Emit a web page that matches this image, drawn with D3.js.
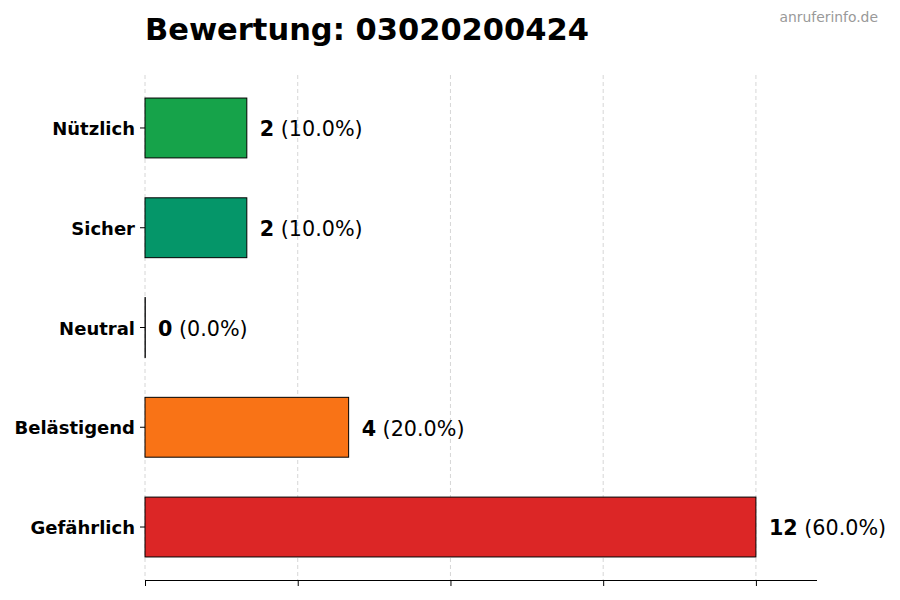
<!DOCTYPE html>
<html lang="de">
<head>
<meta charset="UTF-8">
<title>Bewertung</title>
<script src="https://cdn.jsdelivr.net/npm/d3@7/dist/d3.min.js"></script>
<style>
    body { margin: 0; background: #fff; }
    svg { font-family: "DejaVu Sans", sans-serif; }
</style>
</head>
<body>
<div id="chart"></div>
<script>
    // Data
    var categories = ['Nützlich', 'Sicher', 'Neutral', 'Belästigend', 'Gefährlich'];
    var counts = [2, 2, 0, 4, 12];
    var percents = [10.0, 10.0, 0.0, 20.0, 60.0];
    var colors = ['#16a34a', '#059669', '#6b7280', '#f97316', '#dc2626'];
    var xTicks = [0, 3, 6, 9, 12];
    var title = 'Bewertung: 03020200424';
    var watermark = 'anruferinfo.de';

    var width = 900, height = 600;
    // plot area (named so they don't clash with window.top)
    var plotLeft = 145, plotRight = 817, plotTop = 75, plotBottom = 580;

    var svg = d3.select('#chart').append('svg')
        .attr('width', width)
        .attr('height', height);

    var x = d3.scaleLinear().domain([0, d3.max(counts) * 1.1]).range([plotLeft, plotRight]);
    var y = d3.scaleBand().domain(categories).range([plotTop, plotBottom])
        .paddingInner(0.4).paddingOuter(0.231);

    // dashed grid
    svg.append('g').selectAll('line').data(xTicks).enter().append('line')
        .attr('x1', d => x(d)).attr('x2', d => x(d))
        .attr('y1', plotTop).attr('y2', plotBottom)
        .attr('stroke', '#cccccc').attr('stroke-width', 0.8)
        .attr('stroke-dasharray', '4,3');

    // bars (zero-width rects don't render, so give them a hairline)
    svg.append('g').selectAll('rect').data(categories).enter().append('rect')
        .attr('x', x(0))
        .attr('y', d => y(d))
        .attr('width', (d, i) => Math.max(x(counts[i]) - x(0), 0.3))
        .attr('height', y.bandwidth())
        .attr('fill', (d, i) => colors[i])
        .attr('stroke', '#000').attr('stroke-width', 1);

    // value labels
    var labels = svg.append('g').selectAll('text').data(categories).enter().append('text')
        .attr('x', (d, i) => x(counts[i]) + 13)
        .attr('y', d => y(d) + y.bandwidth() / 2)
        .attr('dy', '0.4em')
        .attr('font-size', 20.7);
    labels.append('tspan').attr('font-weight', 'bold').text((d, i) => counts[i]);
    labels.append('tspan').text((d, i) => ' (' + percents[i].toFixed(1) + '%)');

    // y axis (no spine)
    var yAxis = svg.append('g')
        .attr('transform', 'translate(' + plotLeft + ',0)')
        .call(d3.axisLeft(y).tickSize(5).tickPadding(5));
    yAxis.select('.domain').remove();
    yAxis.selectAll('text')
        .attr('font-family', '"DejaVu Sans", sans-serif')
        .attr('dy', '0.4em')
        .attr('font-size', 18).attr('font-weight', 'bold').attr('fill', '#000');

    // x axis without labels
    var xAxis = svg.append('g')
        .attr('transform', 'translate(0,' + plotBottom + ')')
        .call(d3.axisBottom(x).tickValues(xTicks).tickSize(6).tickFormat(''));
    xAxis.select('.domain').attr('d', 'M' + plotLeft + ',0.5H' + plotRight);

    svg.append('text')
        .attr('x', plotLeft).attr('y', 40)
        .attr('font-size', 30.5).attr('font-weight', 'bold')
        .text(title);

    svg.append('text')
        .attr('x', 878).attr('y', 22)
        .attr('text-anchor', 'end')
        .attr('font-size', 13.9).attr('fill', '#999999')
        .text(watermark);
</script>
</body>
</html>
